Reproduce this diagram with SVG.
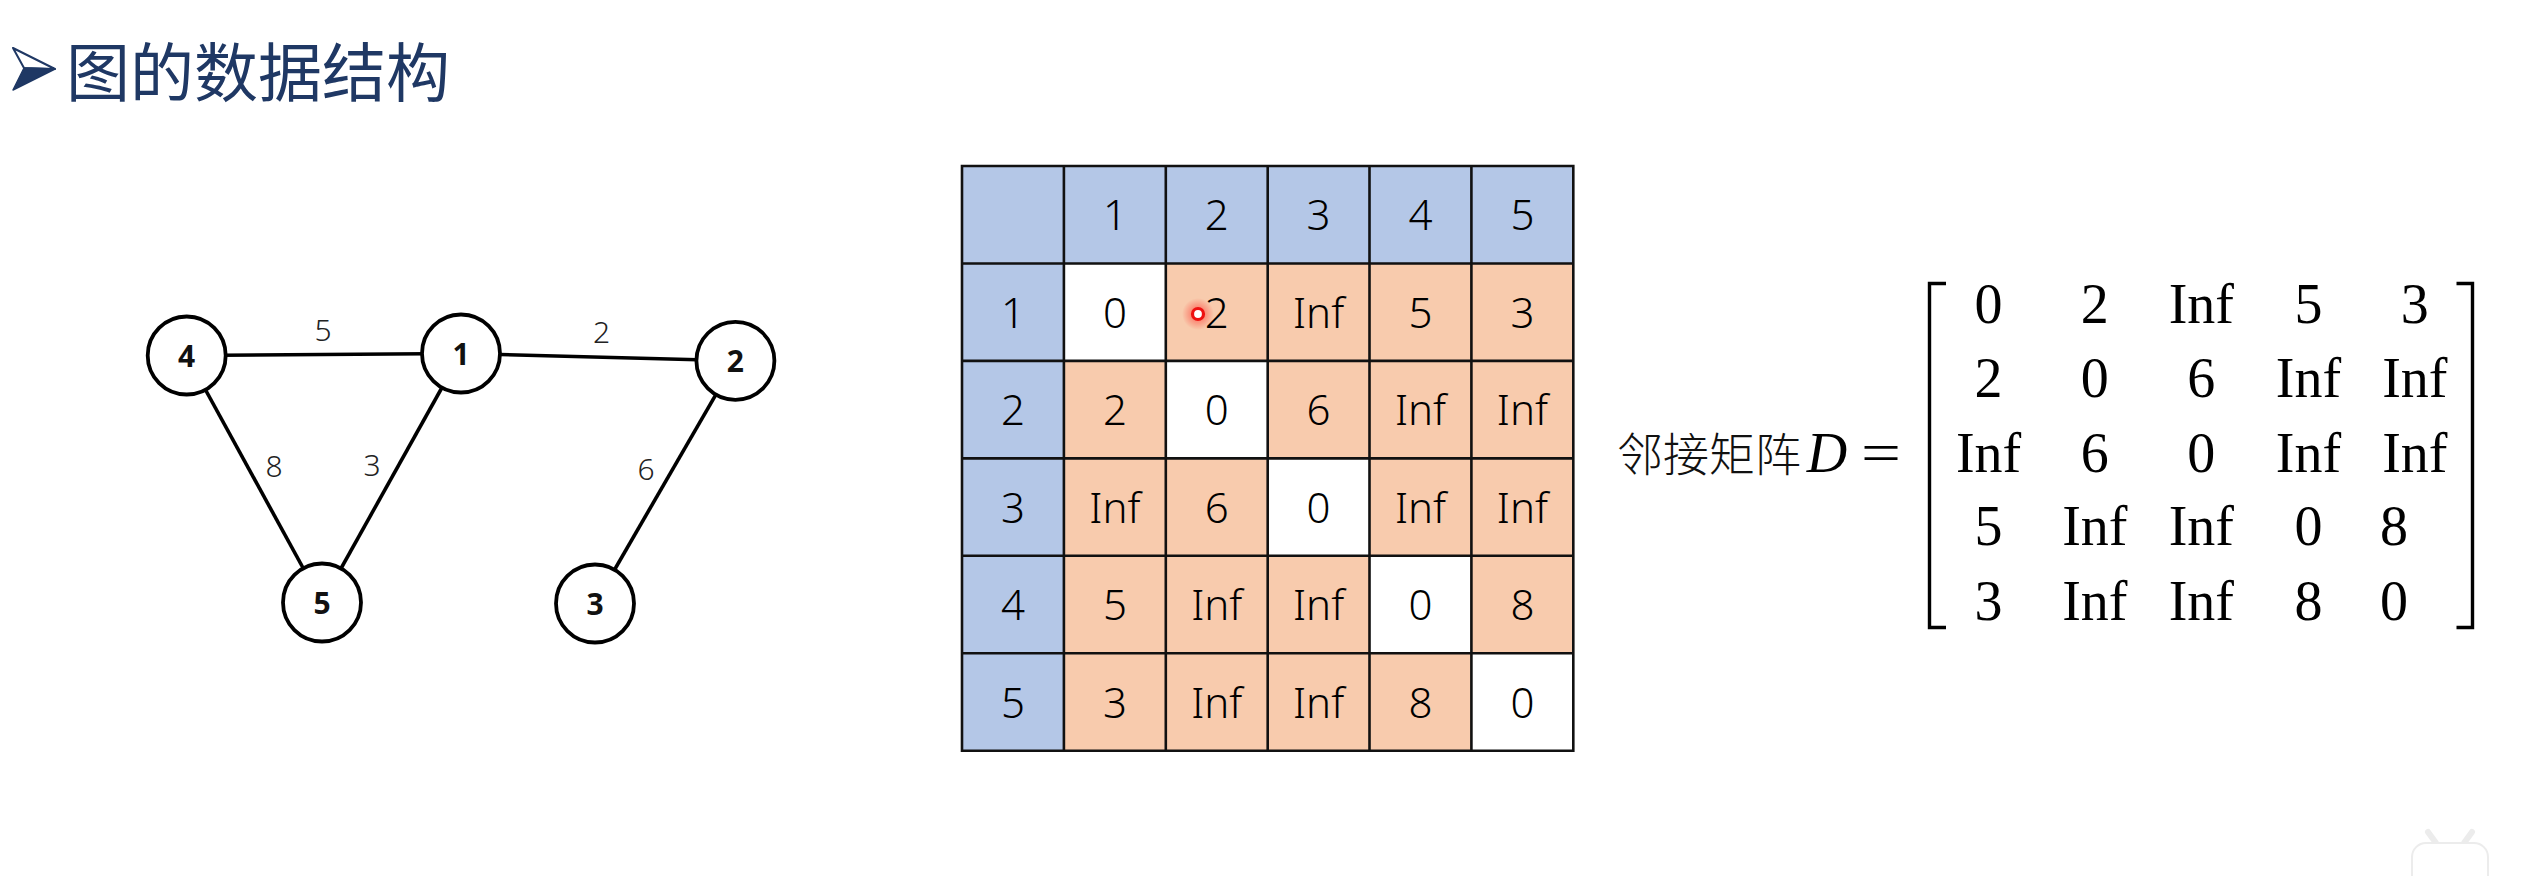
<svg xmlns="http://www.w3.org/2000/svg" width="2527" height="876" viewBox="0 0 2527 876">
<defs>
<style>
.title{font-family:"Noto Sans CJK SC","Noto Sans",sans-serif;font-size:64px;font-weight:400;fill:#1F3864}
.node circle{fill:#fff;stroke:#000;stroke-width:3.8}
.nlabel{font-family:"Noto Sans","Open Sans",sans-serif;font-size:30px;font-weight:700;fill:#111;text-anchor:middle}
.elabel{font-family:"Noto Sans","Open Sans",sans-serif;font-size:30px;font-weight:300;fill:#222;text-anchor:middle}
.edge{stroke:#000;stroke-width:3.6;fill:none}
.hdr{fill:#B4C7E7}
.peach{fill:#F8CBAD}
.wht{fill:#fff}
.grid{stroke:#111;stroke-width:2.6;fill:none}
.tt{font-family:"Noto Sans","Liberation Sans",sans-serif;font-size:42px;font-weight:300;fill:#000;text-anchor:middle}
.mt{font-family:"Liberation Serif","DejaVu Serif",serif;font-size:56px;fill:#000;text-anchor:middle}
.cjk{font-family:"Noto Sans CJK SC",sans-serif;font-size:46px;font-weight:300;fill:#111}
.brk{stroke:#000;stroke-width:3.4;fill:none}
</style>
<radialGradient id="glow">
<stop offset="0" stop-color="#ff0000" stop-opacity="0.55"/>
<stop offset="1" stop-color="#ff0000" stop-opacity="0"/>
</radialGradient>
</defs>
<rect width="2527" height="876" fill="#fff"/>

<g id="title">
<polygon points="13,48 55,69 24,68" fill="#fff" stroke="#1F3864" stroke-width="2" stroke-linejoin="round"/>
<polygon points="24,68 55,69 13,90" fill="#1F3864" stroke="#1F3864" stroke-width="1.5" stroke-linejoin="round"/>
<text class="title" x="66" y="96">图的数据结构</text>
</g>

<g id="connectors">
<line class="edge" x1="186.7" y1="355.5" x2="461" y2="353.5"/>
<line class="edge" x1="461" y1="353.5" x2="735.4" y2="360.8"/>
<line class="edge" x1="186.7" y1="355.5" x2="322" y2="602.5"/>
<line class="edge" x1="461" y1="353.5" x2="322" y2="602.5"/>
<line class="edge" x1="735.4" y1="360.8" x2="595" y2="603.5"/>
<text class="elabel" x="323" y="341">5</text>
<text class="elabel" x="601.5" y="343">2</text>
<text class="elabel" x="274" y="477">8</text>
<text class="elabel" x="372" y="475.5">3</text>
<text class="elabel" x="646" y="479.5">6</text>
</g>

<g id="node4" class="node"><circle cx="186.7" cy="355.5" r="39"/><text class="nlabel" x="186.7" y="366.5">4</text></g>
<g id="node1" class="node"><circle cx="461" cy="353.5" r="39"/><text class="nlabel" x="461" y="364.5">1</text></g>
<g id="node2" class="node"><circle cx="735.4" cy="360.8" r="39"/><text class="nlabel" x="735.4" y="371.8">2</text></g>
<g id="node5" class="node"><circle cx="322" cy="602.5" r="39"/><text class="nlabel" x="322" y="613.5">5</text></g>
<g id="node3" class="node"><circle cx="595" cy="603.5" r="39"/><text class="nlabel" x="595" y="614.5">3</text></g>

<g id="table">
<rect class="hdr" x="962" y="166" width="611.3" height="97.5"/>
<rect class="hdr" x="962" y="166" width="101.9" height="584.7"/>
<rect class="peach" x="1063.9" y="263.5" width="509.4" height="487.2"/>
<rect class="wht" x="1063.9" y="263.5" width="101.9" height="97.4"/>
<rect class="wht" x="1165.8" y="360.9" width="101.9" height="97.5"/>
<rect class="wht" x="1267.7" y="458.4" width="101.8" height="97.4"/>
<rect class="wht" x="1369.5" y="555.8" width="101.9" height="97.5"/>
<rect class="wht" x="1471.4" y="653.3" width="101.9" height="97.4"/>
<path class="grid" d="M962,166H1573.3V750.7H962Z M1063.9,166V750.7 M1165.8,166V750.7 M1267.7,166V750.7 M1369.5,166V750.7 M1471.4,166V750.7 M962,263.5H1573.3 M962,360.9H1573.3 M962,458.4H1573.3 M962,555.8H1573.3 M962,653.3H1573.3"/>
<g class="tt">
<text x="1114.9" y="230.2">1</text><text x="1216.8" y="230.2">2</text><text x="1318.6" y="230.2">3</text><text x="1420.5" y="230.2">4</text><text x="1522.4" y="230.2">5</text>
<text x="1013" y="327.7">1</text><text x="1013" y="425.1">2</text><text x="1013" y="522.6">3</text><text x="1013" y="620.1">4</text><text x="1013" y="717.5">5</text>
<text x="1114.9" y="327.7">0</text><text x="1216.8" y="327.7">2</text><text x="1318.6" y="327.7">Inf</text><text x="1420.5" y="327.7">5</text><text x="1522.4" y="327.7">3</text>
<text x="1114.9" y="425.1">2</text><text x="1216.8" y="425.1">0</text><text x="1318.6" y="425.1">6</text><text x="1420.5" y="425.1">Inf</text><text x="1522.4" y="425.1">Inf</text>
<text x="1114.9" y="522.6">Inf</text><text x="1216.8" y="522.6">6</text><text x="1318.6" y="522.6">0</text><text x="1420.5" y="522.6">Inf</text><text x="1522.4" y="522.6">Inf</text>
<text x="1114.9" y="620.1">5</text><text x="1216.8" y="620.1">Inf</text><text x="1318.6" y="620.1">Inf</text><text x="1420.5" y="620.1">0</text><text x="1522.4" y="620.1">8</text>
<text x="1114.9" y="717.5">3</text><text x="1216.8" y="717.5">Inf</text><text x="1318.6" y="717.5">Inf</text><text x="1420.5" y="717.5">8</text><text x="1522.4" y="717.5">0</text>
</g>
<circle cx="1198" cy="314" r="16" fill="url(#glow)"/>
<circle cx="1198" cy="314" r="5.5" fill="#fff" stroke="#ee1111" stroke-width="3.2"/>
</g>

<g id="matrix">
<text class="cjk" x="1617" y="471">邻接矩阵</text>
<text class="mt" x="1827" y="471.7" font-style="italic">D</text>
<text class="mt" x="1881" y="471.7" textLength="40" lengthAdjust="spacingAndGlyphs">=</text>
<path class="brk" d="M1946,283.5H1929.5V627.5H1946"/>
<path class="brk" d="M2456.5,283.5H2472.5V627.5H2456.5"/>
<text class="mt" x="1988.6" y="323.3">0</text><text class="mt" x="2094.8" y="323.3">2</text><text class="mt" x="2201.3" y="323.3">Inf</text><text class="mt" x="2308.4" y="323.3">5</text><text class="mt" x="2414.8" y="323.3">3</text>
<text class="mt" x="1988.6" y="397.3">2</text><text class="mt" x="2094.8" y="397.3">0</text><text class="mt" x="2201.3" y="397.3">6</text><text class="mt" x="2308.4" y="397.3">Inf</text><text class="mt" x="2414.8" y="397.3">Inf</text>
<text class="mt" x="1988.6" y="471.7">Inf</text><text class="mt" x="2094.8" y="471.7">6</text><text class="mt" x="2201.3" y="471.7">0</text><text class="mt" x="2308.4" y="471.7">Inf</text><text class="mt" x="2414.8" y="471.7">Inf</text>
<text class="mt" x="1988.6" y="545">5</text><text class="mt" x="2094.8" y="545">Inf</text><text class="mt" x="2201.3" y="545">Inf</text><text class="mt" x="2308.4" y="545">0</text><text class="mt" x="2393.9" y="545">8</text>
<text class="mt" x="1988.6" y="620">3</text><text class="mt" x="2094.8" y="620">Inf</text><text class="mt" x="2201.3" y="620">Inf</text><text class="mt" x="2308.4" y="620">8</text><text class="mt" x="2393.9" y="620">0</text>
</g>

<g id="watermark" fill="#fff" stroke="#ececec" stroke-width="2">
<path d="M2436,843 L2428,832 M2464,843 L2472,832" stroke-width="6" stroke-linecap="round"/>
<rect x="2412" y="843" width="76" height="50" rx="14"/>
</g>
</svg>
